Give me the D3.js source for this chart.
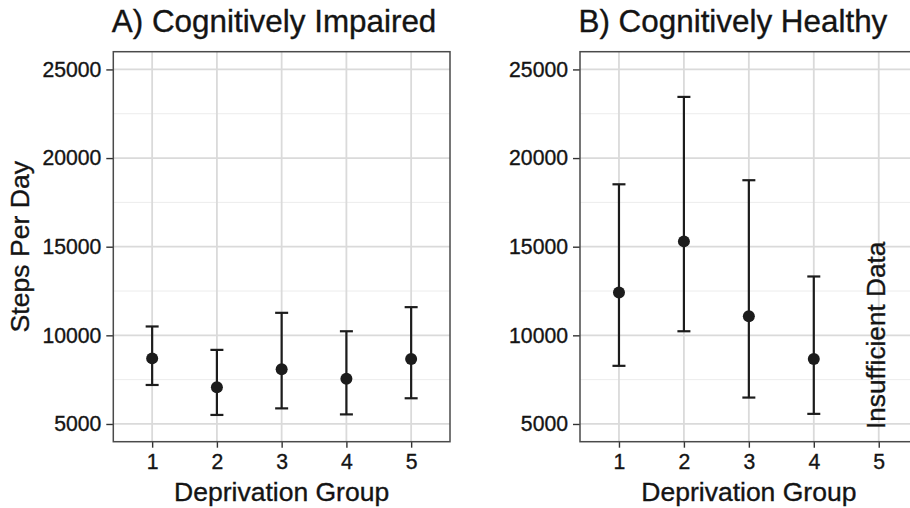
<!DOCTYPE html>
<html><head><meta charset="utf-8">
<script src="https://cdn.jsdelivr.net/npm/d3@7"></script>
<style>body{margin:0;background:#fff}svg{display:block}text{font-family:"Liberation Sans",Arial,sans-serif}</style>
</head><body>
<script>
const groups = [1, 2, 3, 4, 5];
const yTicks = [5000, 10000, 15000, 20000, 25000];
const yMinor = [7500, 12500, 17500, 22500];
const impairedMean  = [8700, 7070, 8090, 7550, 8660];
const impairedLower = [7200, 5510, 5880, 5540, 6450];
const impairedUpper = [10500, 9180, 11270, 10230, 11590];
const healthyMean  = [12420, 15300, 11080, 8660, null];
const healthyLower = [8280, 10230, 6490, 5570, null];
const healthyUpper = [18520, 23450, 18750, 13320, null];
const titles = ["A) Cognitively Impaired", "B) Cognitively Healthy"];
const xTitle = "Deprivation Group";
const yTitle = "Steps Per Day";
const noteText = "Insufficient Data";

const W = 910, H = 508;
const svg = d3.select("body").append("svg").attr("width", W).attr("height", H);

const pTop = 51.7, pBottom = 441.7;
const panels = [
  {left: 113.3, right: 450, mean: impairedMean, lo: impairedLower, hi: impairedUpper, title: titles[0], yTitle: true},
  {left: 580, right: 917.7, mean: healthyMean, lo: healthyLower, hi: healthyUpper, title: titles[1], yTitle: false}
];
const y = d3.scaleLinear().domain([4000, 26000]).range([pBottom, pTop]);
const txt = "#141414";
const styleText = sel => sel.attr("fill", txt).attr("stroke", txt).attr("stroke-width", 0.35)
  .attr("font-family", '"Liberation Sans",Arial,sans-serif');

panels.forEach((p, pi) => {
  const x = d3.scaleLinear().domain([0.4, 5.6]).range([p.left, p.right]);
  const g = svg.append("g");
  g.selectAll(".ymin").data(yMinor).join("line")
    .attr("x1", p.left).attr("x2", p.right).attr("y1", d => y(d)).attr("y2", d => y(d))
    .attr("stroke", "#ececec").attr("stroke-width", 1);
  g.selectAll(".ymaj").data(yTicks).join("line")
    .attr("x1", p.left).attr("x2", p.right).attr("y1", d => y(d)).attr("y2", d => y(d))
    .attr("stroke", "#dadada").attr("stroke-width", 1.8);
  g.selectAll(".xmaj").data(groups).join("line")
    .attr("x1", d => x(d)).attr("x2", d => x(d)).attr("y1", pTop).attr("y2", pBottom)
    .attr("stroke", "#dadada").attr("stroke-width", 1.8);

  const ya = svg.append("g").attr("transform", `translate(${p.left},0)`)
    .call(d3.axisLeft(y).tickValues(yTicks).tickSize(7).tickPadding(5).tickFormat(d3.format("d")));
  ya.select(".domain").remove();
  ya.selectAll("line").attr("stroke", "#333").attr("stroke-width", 1.4);
  ya.selectAll("text").attr("font-size", 21.2).call(styleText);
  const xa = svg.append("g").attr("transform", `translate(0,${pBottom})`)
    .call(d3.axisBottom(x).tickValues(groups).tickSize(6).tickPadding(6.5).tickFormat(d3.format("d")));
  xa.select(".domain").remove();
  xa.selectAll("line").attr("stroke", "#333").attr("stroke-width", 1.4);
  xa.selectAll("text").attr("font-size", 21.2).call(styleText);

  const idx = groups.map((d, i) => i).filter(i => p.mean[i] !== null);
  const cw = 6.5, sw = 2.2, col = "#1c1c1c";
  const eb = g.selectAll(".eb").data(idx).join("g");
  eb.append("line").attr("x1", i => x(groups[i])).attr("x2", i => x(groups[i]))
    .attr("y1", i => y(p.lo[i])).attr("y2", i => y(p.hi[i])).attr("stroke", col).attr("stroke-width", sw);
  eb.append("line").attr("x1", i => x(groups[i]) - cw).attr("x2", i => x(groups[i]) + cw)
    .attr("y1", i => y(p.lo[i])).attr("y2", i => y(p.lo[i])).attr("stroke", col).attr("stroke-width", sw);
  eb.append("line").attr("x1", i => x(groups[i]) - cw).attr("x2", i => x(groups[i]) + cw)
    .attr("y1", i => y(p.hi[i])).attr("y2", i => y(p.hi[i])).attr("stroke", col).attr("stroke-width", sw);
  eb.append("circle").attr("cx", i => x(groups[i])).attr("cy", i => y(p.mean[i])).attr("r", 6).attr("fill", col);

  if (pi === 1) {
    svg.append("text").attr("transform", `translate(${x(5) + 6.3},${y(10000)}) rotate(-90)`)
      .attr("text-anchor", "middle").attr("font-size", 26.2).call(styleText).text(noteText);
  }

  svg.append("rect").attr("x", p.left).attr("y", pTop).attr("width", p.right - p.left).attr("height", pBottom - pTop)
    .attr("fill", "none").attr("stroke", "#4a4a4a").attr("stroke-width", 1.5);

  svg.append("text").attr("x", p.left - 1.5).attr("y", 32).attr("font-size", 31.4).call(styleText).text(p.title);
  svg.append("text").attr("x", (p.left + p.right) / 2).attr("y", 501)
    .attr("text-anchor", "middle").attr("font-size", 26.5).call(styleText).text(xTitle);
  if (p.yTitle) {
    svg.append("text").attr("transform", `translate(29,${(pTop + pBottom) / 2}) rotate(-90)`)
      .attr("text-anchor", "middle").attr("font-size", 26.6).call(styleText).text(yTitle);
  }
});
</script>
</body></html>
